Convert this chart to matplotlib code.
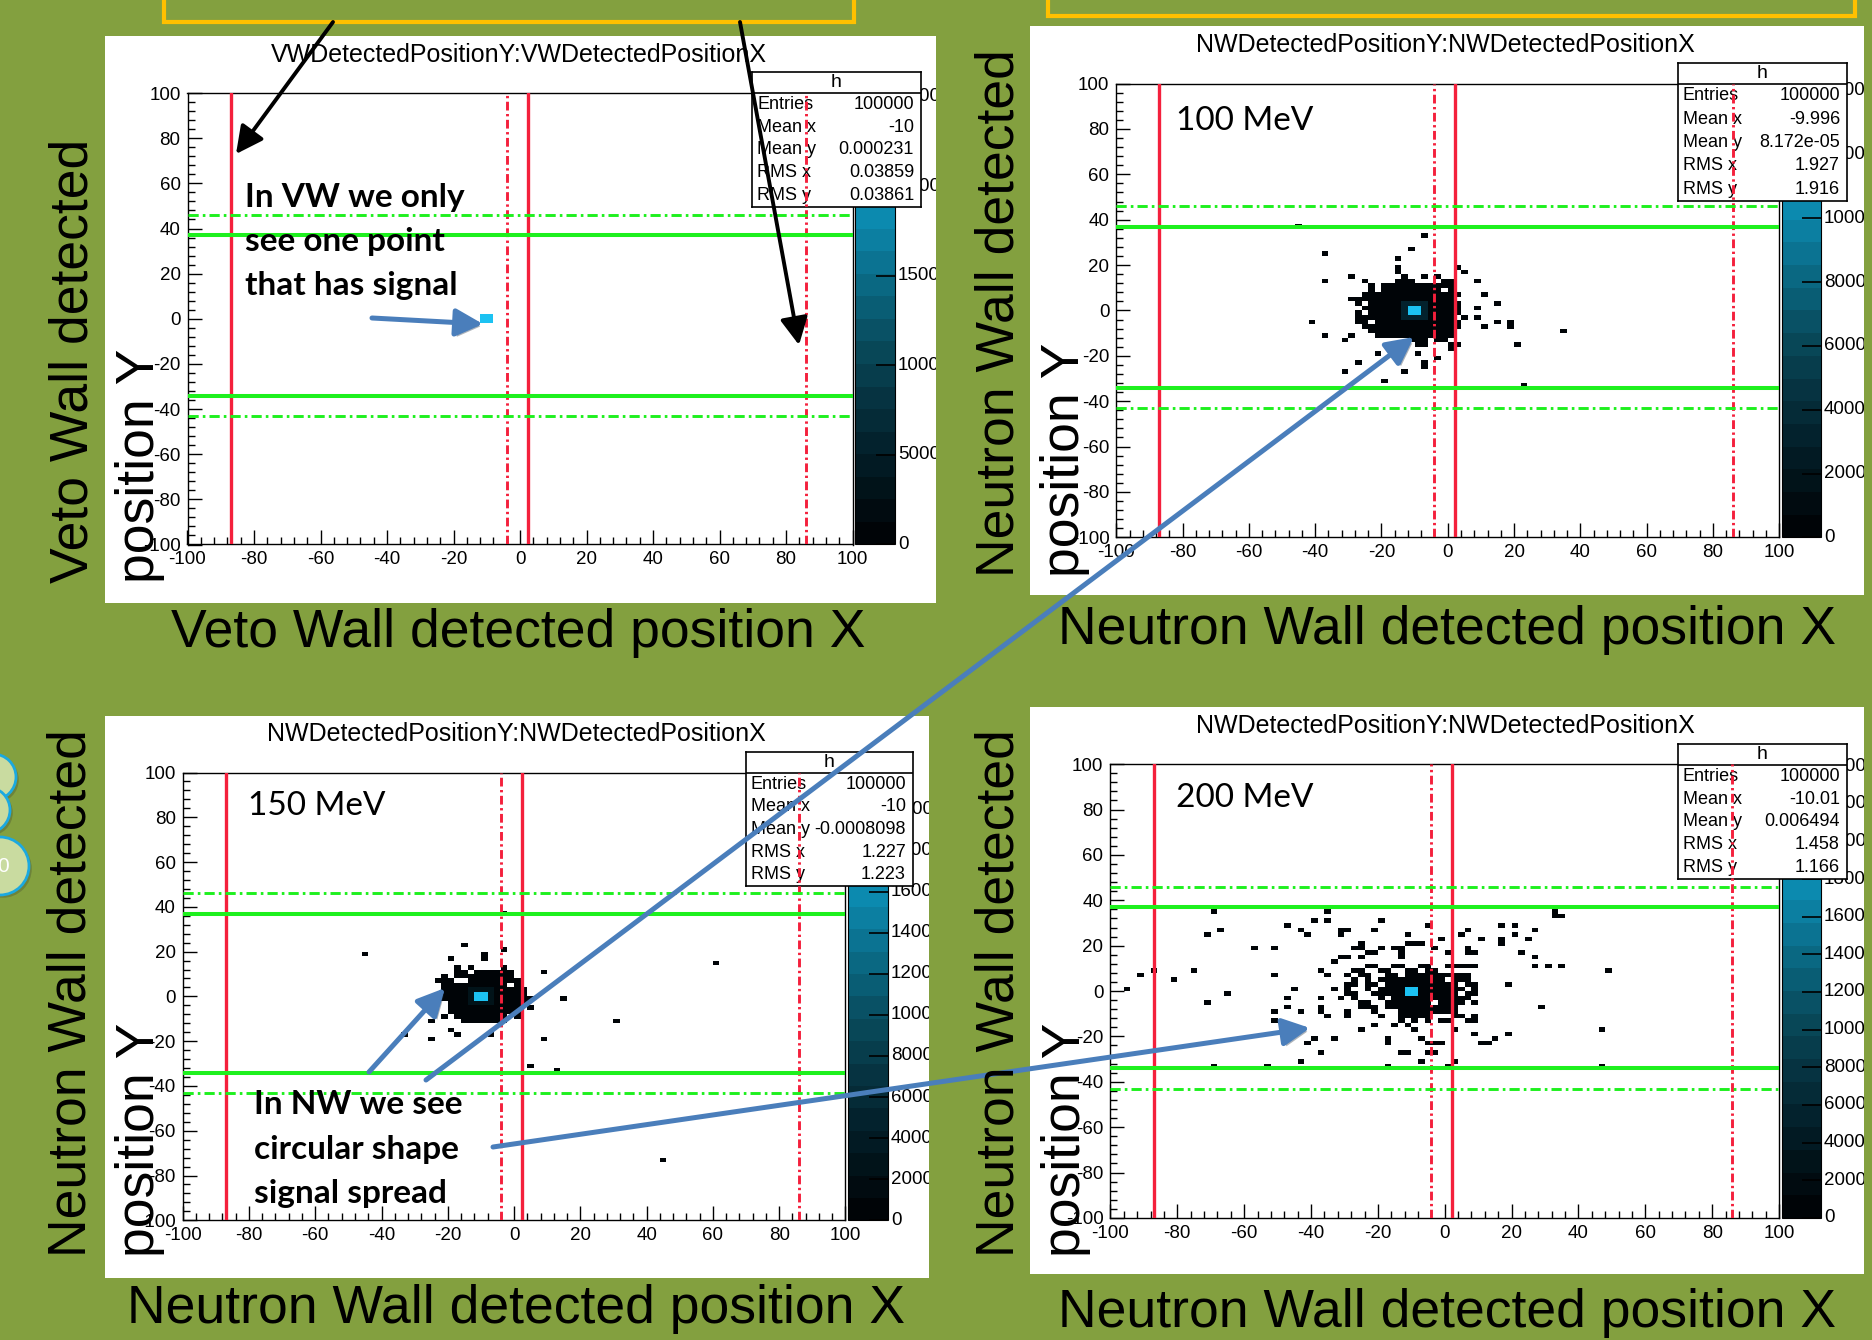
import numpy as np
import matplotlib
matplotlib.use("Agg")
import matplotlib.pyplot as plt
from matplotlib.colors import LinearSegmentedColormap, Normalize
from matplotlib.patches import Rectangle, Circle, FancyArrowPatch
import matplotlib.patheffects as pe

W, H = 1872, 1340
plt.rcParams['font.family'] = ['Liberation Sans', 'DejaVu Sans']
plt.rcParams['axes.unicode_minus'] = False

GREEN_BG = "#83a03f"
RED = "#f4203c"
LIME = "#1ef01e"
BLUE = "#4a7ebb"

# ---------------- data: 2x2 bins, given by lower-left corner (x, y) ----------------
bin_edges = np.arange(-100, 101, 2)
core_bins = [(-12, -2), (-12, 0), (-10, -2), (-10, 0)]
ring_bins = [(-14, -4), (-14, -2), (-14, 0), (-14, 2), (-12, -4), (-12, 2),
             (-10, -4), (-10, 2), (-8, -4), (-8, -2), (-8, 0), (-8, 2)]

# cut lines
x_cut_solid = [-87, 2.3]
x_cut_dash = [-4, 86]
y_cut_solid = [37, -34]
y_cut_dash = [46, -43]

titles = ["VWDetectedPositionY:VWDetectedPositionX",
          "NWDetectedPositionY:NWDetectedPositionX",
          "NWDetectedPositionY:NWDetectedPositionX",
          "NWDetectedPositionY:NWDetectedPositionX"]
energies = [None, "100 MeV", "150 MeV", "200 MeV"]
stat_names = ["Entries", "Mean x", "Mean y", "RMS x", "RMS y"]
stat_vw = ["100000", "-10", "0.000231", "0.03859", "0.03861"]
stat_100 = ["100000", "-9.996", "8.172e-05", "1.927", "1.916"]
stat_150 = ["100000", "-10", "-0.0008098", "1.227", "1.223"]
stat_200 = ["100000", "-10.01", "0.006494", "1.458", "1.166"]

core_count = [25000, 14000, 21200, 23500]
ring_count = [0, 3200, 2400, 900]
z_max = [25200, 14230, 21800, 24100]
z_step = [5000, 2000, 2000, 2000]

# blob rows: (y, x_from, x_to)
vw_rows = []
vw_singles = []
vw_holes = []

nw100_rows = [(14, -14, -14), (14, -8, -8), (14, -4, -4),
              (12, -16, -12), (12, -2, 0),
              (10, -24, -6), (10, -4, 0),
              (8, -24, 0), (6, -26, 2), (4, -28, 2), (2, -28, 2),
              (0, -26, 4), (-2, -28, 2), (-4, -28, 4), (-6, -28, 2),
              (-8, -26, 2), (-10, -24, 0),
              (-12, -22, -6), (-12, -4, 0),
              (-14, -12, -8), (-14, -4, -2),
              (-16, -10, -8), (-16, 0, 0)]
nw100_singles = [(-46, 36), (-8, 32), (-12, 26), (-38, 24), (-16, 22), (-16, 18), (-16, 16),
                 (2, 18), (4, 16), (-30, 14), (-38, 12), (-26, 12), (8, 12), (-30, 4), (10, 6),
                 (14, 2), (8, 0), (8, -4), (14, -6), (18, -6), (18, -8), (10, -8), (-42, -6),
                 (-38, -12), (-32, -14), (-30, -12), (-24, -10), (34, -10), (20, -16), (-22, -20),
                 (-28, -24), (-32, -28), (-14, -28), (-20, -32), (-8, -24), (-8, -26), (-4, -22),
                 (0, -18), (2, -16), (22, -34), (-10, -20)]
nw100_holes = [(-22, 10), (-22, 8), (-2, 8), (-26, 2), (-28, 0), (-24, -6), (-26, -2),
               (2, 4), (4, 0), (2, -4), (-28, 6), (-28, -8)]

nw150_rows = [(10, -18, -16), (10, -12, -2),
              (8, -22, -2), (6, -24, -20), (6, -16, 0), (4, -22, 0),
              (2, -22, 2), (0, -22, 2), (-2, -24, 4), (-4, -22, 2),
              (-6, -20, 0), (-8, -20, 0),
              (-10, -22, -18), (-10, -16, -4), (-10, 0, 0),
              (-12, -16, -6)]
nw150_singles = [(-46, 18), (-16, 22), (-20, 16), (-10, 16), (-10, 18), (-4, 36), (-4, 20),
                 (-18, 12), (-14, 12), (-4, 12), (8, 10), (14, -2), (4, -6),
                 (-26, -6), (-26, -12), (-34, -18), (-26, -20), (-20, -16), (-18, -18), (-8, -18),
                 (-4, -12), (8, -20), (30, -12), (60, 14), (4, -32), (12, -34), (44, -74)]
nw150_holes = [(-16, 6), (-20, 8), (-2, 4), (-22, -4), (-20, -10)]

nw200_rows = [(6, -18, 2), (4, -20, 2), (2, -20, 2), (0, -20, 2), (-2, -22, 2),
              (-4, -20, 4), (-6, -18, 2), (-8, -18, 0), (-10, -16, -2), (-12, -14, -6)]
nw200_singles = [(-16, 36), (46, 36), (-70, 34), (-36, 34), (-36, 30), (-40, 30), (-48, 28),
                 (-44, 26), (-42, 24), (-68, 26), (-72, 24), (-32, 26), (-30, 26), (-32, 24),
                 (-20, 30), (-22, 26), (-12, 24), (-6, 28), (-12, 20), (-10, 20), (-8, 20),
                 (-26, 20), (-26, 18), (-28, 18), (-20, 18), (-16, 18), (-24, 16), (-22, 16),
                 (-14, 18), (-14, 16), (-14, 14), (-32, 14), (-30, 14), (-34, 12), (-26, 14),
                 (-92, 6), (-96, 0), (-88, 8), (-82, 4), (-76, 8), (-66, -2), (-72, -6),
                 (-58, 18), (-52, 18), (-52, 6), (-46, 0), (-48, -4), (-48, -8), (-52, -10),
                 (-52, -14), (-44, -10), (-38, -4), (-38, -8), (-38, -10), (-36, -12), (-34, 0),
                 (-38, 8), (-36, 6), (-40, -22), (-42, -24), (-34, -22), (-38, -28), (-44, -32),
                 (-54, -34), (-70, -34), (-18, -34), (0, -34), (46, -34), (46, -18), (18, -20),
                 (28, -8), (18, 2), (48, 8), (26, 10), (30, 10), (34, 10), (26, 14), (22, 16),
                 (24, 22), (26, 26), (20, 28), (16, 28), (20, 24), (16, 22), (16, 20), (10, 22),
                 (6, 26), (4, 24), (6, 16), (8, 16), (6, 18), (32, 34), (32, 32), (34, 32),
                 (-2, 22), (-4, 18), (0, 16),
                 (8, -12), (8, -14), (6, -14), (10, -24), (12, -24), (14, -22), (8, -20), (4, -12),
                 (2, -18), (-6, -24), (-4, -24), (-2, -24), (-14, -28), (-12, -28), (-6, -28),
                 (-4, -28), (-8, -32), (2, -32), (-18, -22), (-18, -24), (-26, -18), (-22, -16),
                 (-16, -16), (-14, -14), (-12, -16), (-10, -18), (-8, -22), (-30, -10), (-30, -12),
                 (-26, -6), (-26, -8), (-24, -8), (-20, -12), (-32, -4),
                 (-24, 10), (-22, 10), (-16, 10), (-14, 10), (-8, 10), (-6, 10), (0, 10), (2, 10),
                 (4, 10), (6, 10), (8, 10), (-28, 8), (-26, 8), (-20, 8), (-18, 8), (-12, 8),
                 (-10, 8), (-6, 8), (-4, 8), (-30, 6), (-26, 6), (-24, 6), (4, 6), (6, 6),
                 (-28, 4), (-24, 4), (4, 4), (6, 4), (-30, 2), (-28, 2), (-24, 2), (-22, 2),
                 (6, 2), (8, 2), (-30, 0), (-24, 0), (4, 0), (8, 0), (-30, -2), (-28, -2),
                 (6, -2), (8, -2), (-28, -4), (6, -4), (-24, -6), (4, -6), (8, -6), (-22, -8),
                 (2, -8), (-22, -10), (0, -10), (2, -10), (2, -12), (-10, -14), (-6, -14),
                 (-2, -14), (0, -14)]
nw200_holes = [(-14, 6), (-20, 2), (-16, -10), (-4, -6), (0, 4), (-18, -4)]

# ---------------- layout (pixel boxes: x0, y0, x1, y1) ----------------
panels = [
    dict(bg=(105, 36, 936, 603), plot=(187.5, 93.1, 852.5, 544.5), cbar=(855, 93.1, 895, 544.5),
         stats=(752, 72, 921, 207), title=(519, 55), energy=None,
         ylab=(74, 140, 583), xlab=(518, 633), big="Veto Wall detected"),
    dict(bg=(1030, 26, 1864, 595), plot=(1116.4, 83.6, 1779.1, 537.3), cbar=(1782, 83.6, 1821, 537.3),
         stats=(1678, 63, 1847, 201), title=(1445, 45), energy=(1176, 121),
         ylab=(1000, 1065, 577), xlab=(1447, 630), big="Neutron Wall detected"),
    dict(bg=(105, 716, 929, 1278), plot=(182.7, 772.5, 845.4, 1220.3), cbar=(848, 772.5, 888, 1220.3),
         stats=(746, 752, 913, 886), title=(516, 734), energy=(248, 806),
         ylab=(72, 140, 1257), xlab=(516, 1309), big="Neutron Wall detected"),
    dict(bg=(1030, 707, 1864, 1274), plot=(1110.4, 764.2, 1779.1, 1217.9), cbar=(1782, 764.2, 1821, 1217.9),
         stats=(1678, 744, 1847, 879), title=(1445, 726), energy=(1176, 798),
         ylab=(1000, 1066, 1257), xlab=(1447, 1313), big="Neutron Wall detected"),
]
all_rows = [vw_rows, nw100_rows, nw150_rows, nw200_rows]
all_singles = [vw_singles, nw100_singles, nw150_singles, nw200_singles]
all_holes = [vw_holes, nw100_holes, nw150_holes, nw200_holes]
all_stats = [stat_vw, stat_100, stat_150, stat_200]

root_cmap = LinearSegmentedColormap.from_list(
    "root", ["#000407", "#021820", "#052e3b", "#084859", "#0a6680", "#0c86aa", "#0ea2ca", "#1cc2f2"], N=20)


def rect(x0, y0, x1, y1):
    return [x0 / W, 1 - y1 / H, (x1 - x0) / W, (y1 - y0) / H]


def idx(v):
    return (v + 100) // 2


def hist_counts(rows, singles, holes, ring, core):
    counts = np.zeros((len(bin_edges) - 1, len(bin_edges) - 1))
    for k, m0, m1 in rows:
        for m in range(m0, m1 + 1, 2):
            counts[idx(k), idx(m)] = 40
    for m, k in singles:
        counts[idx(k), idx(m)] = max(counts[idx(k), idx(m)], 1)
    for m, k in holes:
        counts[idx(k), idx(m)] = 0
    if ring > 0:
        for m, k in ring_bins:
            counts[idx(k), idx(m)] = ring
    for m, k in core_bins:
        counts[idx(k), idx(m)] = core
    return counts


fig = plt.figure(figsize=(W / 100, H / 100), dpi=100)
fig.patch.set_facecolor(GREEN_BG)

for i, p in enumerate(panels):
    x0, y0, x1, y1 = p["bg"]
    bg = fig.add_axes(rect(*p["bg"]), zorder=1)
    bg.set_xlim(x0, x1)
    bg.set_ylim(y1, y0)
    bg.set_xticks([])
    bg.set_yticks([])
    for s in bg.spines.values():
        s.set_visible(False)
    bg.set_facecolor("white")
    bg.text(p["title"][0], p["title"][1], titles[i], ha="center", va="center", fontsize=18)

    # 2D histogram
    ax = fig.add_axes(rect(*p["plot"]), zorder=2)
    counts = hist_counts(all_rows[i], all_singles[i], all_holes[i], ring_count[i], core_count[i])
    norm = Normalize(0, z_max[i])
    mesh = ax.pcolormesh(bin_edges, bin_edges, np.ma.masked_equal(counts, 0), cmap=root_cmap,
                         norm=norm, shading="flat", antialiased=False, edgecolors="none")
    ax.set_xlim(-100, 100)
    ax.set_ylim(-100, 100)
    ax.set_facecolor("white")
    ax.set_xticks(np.arange(-100, 101, 20))
    ax.set_yticks(np.arange(-100, 101, 20))
    ax.set_xticks(np.arange(-100, 101, 4), minor=True)
    ax.set_yticks(np.arange(-100, 101, 4), minor=True)
    ax.tick_params(which="major", direction="in", length=10, width=1, labelsize=13.5, pad=5)
    ax.tick_params(which="minor", direction="in", length=5, width=1)
    for s in ax.spines.values():
        s.set_linewidth(1)

    # colour palette
    cx0, cy0, cx1, cy1 = p["cbar"]
    cax = fig.add_axes(rect(*p["cbar"]), zorder=2)
    ticks = np.arange(0, z_max[i] + 1, z_step[i])
    cb = fig.colorbar(mesh, cax=cax, ticks=ticks)
    cb.outline.set_linewidth(0.8)
    cax.yaxis.set_ticks_position("right")
    cax.tick_params(direction="in", length=14, width=1.2, labelright=False, labelleft=False)
    for v in ticks:
        ypix = cy1 - v / z_max[i] * (cy1 - cy0)
        bg.text(cx1 + 3, ypix, f"{v}", ha="left", va="center", fontsize=13.5, clip_on=True)

    # stats box
    sx0, sy0, sx1, sy1 = p["stats"]
    st = fig.add_axes(rect(*p["stats"]), zorder=3)
    st.set_xlim(sx0, sx1)
    st.set_ylim(sy1, sy0)
    st.set_xticks([])
    st.set_yticks([])
    st.set_facecolor("white")
    for s in st.spines.values():
        s.set_linewidth(1.2)
    hh = 21
    st.axhline(sy0 + hh, color="black", lw=1.2)
    st.text((sx0 + sx1) / 2, sy0 + hh / 2, "h", ha="center", va="center", fontsize=14)
    row_h = (sy1 - sy0 - hh) / 5
    for r, (name, val) in enumerate(zip(stat_names, all_stats[i])):
        yy = sy0 + hh + row_h * (r + 0.5)
        st.text(sx0 + 5, yy, name, ha="left", va="center", fontsize=13)
        st.text(sx1 - 7, yy, val, ha="right", va="center", fontsize=13)

    # cut lines on top
    la = fig.add_axes(rect(*p["plot"]), zorder=4)
    la.set_xlim(-100, 100)
    la.set_ylim(-100, 100)
    la.axis("off")
    for x in x_cut_solid:
        la.axvline(x, color=RED, lw=2.4)
    for x in x_cut_dash:
        la.axvline(x, color=RED, lw=2.1, linestyle=(0, (3.0, 1.2, 0.8, 1.2)))
    for y in y_cut_solid:
        la.axhline(y, color=LIME, lw=2.9)
    for y in y_cut_dash:
        la.axhline(y, color=LIME, lw=2.1, linestyle=(0, (3.5, 1.4, 0.9, 1.4)))

# ---------------- overlay: slide annotations ----------------
ov = fig.add_axes([0, 0, 1, 1], zorder=10)
ov.set_xlim(0, W)
ov.set_ylim(H, 0)
ov.axis("off")
ov.patch.set_alpha(0)

ov.add_patch(Rectangle((164, -40), 690, 62, fill=False, ec="#ffc000", lw=3))
ov.add_patch(Rectangle((1048, -40), 807, 56, fill=False, ec="#ffc000", lw=3))

for (cx, cy, r) in [(-7, 777, 23), (-13, 810, 23), (0, 866, 29)]:
    ov.add_patch(Circle((cx, cy), r, fc="#c9dba0", ec="#1ba9e0", lw=2,
                        path_effects=[pe.withSimplePatchShadow(offset=(2, -2), alpha=0.3)]))
ov.text(3, 866, "0", color="white", fontsize=15, ha="center", va="center")

for i, p in enumerate(panels):
    xa, xb, yb = p["ylab"]
    ov.text(xa, yb, p["big"], rotation=90, ha="center", va="bottom", fontsize=38.5)
    ov.text(xb, yb, "position Y", rotation=90, ha="center", va="bottom", fontsize=38.5)
    ov.text(p["xlab"][0], p["xlab"][1], p["big"] + " position X", ha="center", va="center", fontsize=38.5)
    if energies[i]:
        ov.text(p["energy"][0], p["energy"][1], energies[i], ha="left", va="center",
                fontsize=24, family=["Lato", "DejaVu Sans"])

for txt, yy in [("In VW we only", 197), ("see one point", 241), ("that has signal", 285)]:
    ov.text(245, yy, txt, ha="left", va="center", fontsize=24, fontweight="bold",
            family=["Lato", "DejaVu Sans"])
for txt, yy in [("In NW we see", 1104), ("circular shape", 1149), ("signal spread", 1193)]:
    ov.text(254, yy, txt, ha="left", va="center", fontsize=24, fontweight="bold",
            family=["Lato", "DejaVu Sans"])


def arrow(p0, p1, color, lw, shadow=False):
    a = FancyArrowPatch(p0, p1, arrowstyle="-|>,head_length=0.75,head_width=0.38",
                        mutation_scale=22, lw=lw, color=color, shrinkA=0, shrinkB=0)
    if shadow:
        a.set_path_effects([pe.withSimplePatchShadow(offset=(2, -2), alpha=0.35)])
    ov.add_patch(a)


arrow((333, 22), (236, 154), "black", 2.8)
arrow((740, 22), (799, 345), "black", 2.8)
arrow((372, 318), (483, 324), BLUE, 3.6, True)
arrow((369, 1072), (445, 988), BLUE, 3.6, True)
arrow((426, 1080), (1414, 337), BLUE, 3.6, True)
arrow((493, 1147), (1310, 1028), BLUE, 3.6, True)

fig.savefig("out.png", dpi=100, facecolor=GREEN_BG)
